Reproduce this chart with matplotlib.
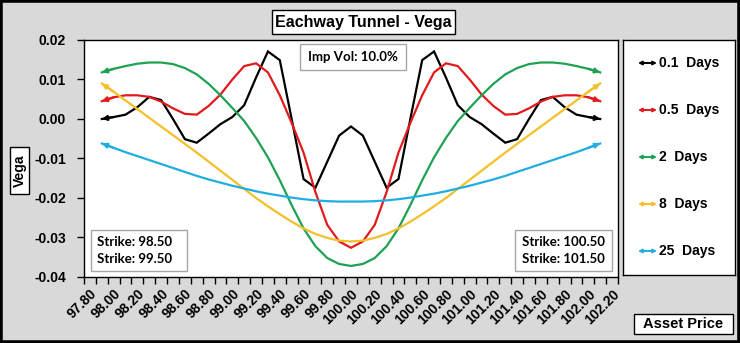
import matplotlib
matplotlib.use('Agg')
import matplotlib.pyplot as plt
from matplotlib.patches import Rectangle

W, H = 740, 343

# asset price grid (categories)
price = [97.9, 98.0, 98.1, 98.2, 98.3, 98.4, 98.5, 98.6, 98.7, 98.8, 98.9,
         99.0, 99.1, 99.2, 99.3, 99.4, 99.5, 99.6, 99.7, 99.8, 99.9,
         100.0, 100.1, 100.2, 100.3, 100.4, 100.5, 100.6, 100.7, 100.8, 100.9,
         101.0, 101.1, 101.2, 101.3, 101.4, 101.5, 101.6, 101.7, 101.8, 101.9,
         102.0, 102.1]

vega_01d = [0.0000, 0.0005, 0.0011, 0.0030, 0.0056, 0.0048, 0.0000, -0.0051, -0.0060, -0.0037, -0.0013,
            0.0005, 0.0035, 0.0105, 0.0171, 0.0149, 0.0000, -0.0152, -0.0174, -0.0108, -0.0042,
            -0.0019, -0.0042, -0.0108, -0.0174, -0.0152, 0.0000, 0.0149, 0.0171, 0.0105, 0.0035,
            0.0005, -0.0013, -0.0037, -0.0060, -0.0051, 0.0000, 0.0048, 0.0056, 0.0030, 0.0011,
            0.0005, 0.0000]

vega_05d = [0.0045, 0.0055, 0.0060, 0.0060, 0.0056, 0.0044, 0.0027, 0.0013, 0.0011, 0.0033, 0.0062,
            0.0100, 0.0134, 0.0141, 0.0118, 0.0060, -0.0010, -0.0085, -0.0185, -0.0268, -0.0310,
            -0.0326, -0.0310, -0.0268, -0.0185, -0.0085, -0.0010, 0.0060, 0.0118, 0.0141, 0.0134,
            0.0100, 0.0062, 0.0033, 0.0011, 0.0013, 0.0027, 0.0044, 0.0056, 0.0060, 0.0060,
            0.0055, 0.0045]

vega_2d = [0.0118, 0.0127, 0.0134, 0.0140, 0.0143, 0.0143, 0.0139, 0.0129, 0.0113, 0.0089, 0.0060,
           0.0028, -0.0005, -0.0048, -0.0097, -0.0155, -0.0218, -0.0277, -0.0322, -0.0352, -0.0367,
           -0.0372, -0.0367, -0.0352, -0.0322, -0.0277, -0.0218, -0.0155, -0.0097, -0.0048, -0.0005,
           0.0028, 0.0060, 0.0089, 0.0113, 0.0129, 0.0139, 0.0143, 0.0143, 0.0140, 0.0134,
           0.0127, 0.0118]

vega_8d = [0.0090, 0.0069, 0.0047, 0.0025, 0.0003, -0.0019, -0.0041, -0.0063, -0.0085, -0.0108, -0.0131,
           -0.0154, -0.0177, -0.0200, -0.0221, -0.0241, -0.0260, -0.0277, -0.0291, -0.0301, -0.0308,
           -0.0310, -0.0308, -0.0301, -0.0291, -0.0277, -0.0260, -0.0241, -0.0221, -0.0200, -0.0177,
           -0.0154, -0.0131, -0.0108, -0.0085, -0.0063, -0.0041, -0.0019, 0.0003, 0.0025, 0.0047,
           0.0069, 0.0090]

vega_25d = [-0.0062, -0.0073, -0.0084, -0.0094, -0.0104, -0.0114, -0.0124, -0.0134, -0.0144, -0.0153, -0.0161,
            -0.0169, -0.0176, -0.0183, -0.0189, -0.0194, -0.0199, -0.0203, -0.0206, -0.0208, -0.0209,
            -0.0209, -0.0209, -0.0208, -0.0206, -0.0203, -0.0199, -0.0194, -0.0189, -0.0183, -0.0176,
            -0.0169, -0.0161, -0.0153, -0.0144, -0.0134, -0.0124, -0.0114, -0.0104, -0.0094, -0.0084,
            -0.0073, -0.0062]

series_names = ['0.1  Days', '0.5  Days', '2  Days', '8  Days', '25  Days']
series_colors = ['#000000', '#E31A1C', '#1FA152', '#F5BF2A', '#1FAEE0']
xtick_vals = [97.8, 98.0, 98.2, 98.4, 98.6, 98.8, 99.0, 99.2, 99.4, 99.6, 99.8,
              100.0, 100.2, 100.4, 100.6, 100.8, 101.0, 101.2, 101.4, 101.6, 101.8,
              102.0, 102.2]
ytick_vals = [-0.04, -0.03, -0.02, -0.01, 0.00, 0.01, 0.02]
strikes_left = ['Strike: 98.50', 'Strike: 99.50']
strikes_right = ['Strike: 100.50', 'Strike: 101.50']

ARIAL = ['Liberation Sans', 'DejaVu Sans']
CALIBRI = ['Lato', 'DejaVu Sans']


def fx(x):
    return x / W


def fy(y):
    return 1 - y / H


def box(x0, y0, x1, y1, ec='black', lw=1.0):
    fig.add_artist(Rectangle((fx(x0), fy(y1)), (x1 - x0) / W, (y1 - y0) / H,
                             transform=fig.transFigure, fc='white', ec=ec, lw=lw, zorder=5))


fig = plt.figure(figsize=(W / 100, H / 100), dpi=100)
fig.patch.set_facecolor('#D9D9D9')
fig.add_artist(Rectangle((0, 0), 1, 1, transform=fig.transFigure, fill=False,
                         ec='black', lw=4, zorder=10))

ax = fig.add_axes([fx(84), fy(277), (618 - 84) / W, (277 - 40) / H])
ax.set_facecolor('white')

all_series = [vega_01d, vega_05d, vega_2d, vega_8d, vega_25d]
for vals, col in zip(all_series, series_colors):
    ax.plot(price, vals, color=col, lw=1.6, solid_joinstyle='miter')
    for a, b in [(1, 0), (-2, -1)]:
        ax.annotate('', xy=(price[b], vals[b]), xytext=(price[a], vals[a]),
                    arrowprops=dict(arrowstyle='-|>', color=col, lw=1.6,
                                    shrinkA=0, shrinkB=0, mutation_scale=7))

ax.set_xlim(97.75, 102.25)
ax.set_ylim(-0.04, 0.02)
ax.set_xticks(xtick_vals)
ax.set_xticklabels(['%.2f' % v for v in xtick_vals], rotation=45, ha='right',
                   rotation_mode='anchor', fontsize=10, fontweight='bold', family=ARIAL)
ax.set_xticks([97.75 + 0.1 * i for i in range(46)], minor=True)
ax.tick_params(axis='x', which='major', length=0, pad=7)
ax.tick_params(axis='x', which='minor', length=5, width=1, direction='out')
ax.set_yticks(ytick_vals)
ax.set_yticklabels(['%.2f' % v for v in ytick_vals], fontsize=10, fontweight='bold', family=ARIAL)
ax.tick_params(axis='y', length=5, width=1, direction='out', pad=8)
for s in ax.spines.values():
    s.set_linewidth(1)

# title
box(272, 10, 455, 34)
fig.text(fx(363.5), fy(22), 'Eachway Tunnel - Vega', ha='center', va='center',
         fontsize=11.5, fontweight='bold', family=ARIAL, zorder=6)

# y label
box(10, 147, 29, 194)
fig.text(fx(19.5), fy(170.5), 'Vega', ha='center', va='center', rotation=90,
         fontsize=10, fontweight='bold', family=ARIAL, zorder=6)

# x label
box(634, 314, 733, 334)
fig.text(fx(683.5), fy(324), 'Asset Price', ha='center', va='center',
         fontsize=10.5, fontweight='bold', family=ARIAL, zorder=6)

# implied vol
box(300, 44, 406, 70, ec='#A6A6A6')
fig.text(fx(353), fy(57), 'Imp Vol: 10.0%', ha='center', va='center',
         fontsize=9.5, fontweight='bold', family=CALIBRI, zorder=6)

# strike boxes
box(91, 230, 187, 271, ec='#A6A6A6')
box(515, 230, 612, 271, ec='#A6A6A6')
for i, (sl, sr) in enumerate(zip(strikes_left, strikes_right)):
    yy = 242 + 17 * i
    fig.text(fx(97), fy(yy), sl, ha='left', va='center', fontsize=9.5,
             fontweight='bold', family=CALIBRI, zorder=6)
    fig.text(fx(522), fy(yy), sr, ha='left', va='center', fontsize=9.5,
             fontweight='bold', family=CALIBRI, zorder=6)

# legend
lx0, ly0, lx1, ly1 = 623, 40, 735, 275
lax = fig.add_axes([fx(lx0), fy(ly1), (lx1 - lx0) / W, (ly1 - ly0) / H])
lax.set_xlim(lx0, lx1)
lax.set_ylim(ly1, ly0)
lax.set_xticks([])
lax.set_yticks([])
for s in lax.spines.values():
    s.set_linewidth(1)
for i, (name, col) in enumerate(zip(series_names, series_colors)):
    yy = 63 + 47 * i
    lax.annotate('', xy=(657, yy), xytext=(638, yy),
                 arrowprops=dict(arrowstyle='<|-|>', color=col, lw=1.4,
                                 shrinkA=0, shrinkB=0, mutation_scale=5))
    lax.text(659, yy, name, ha='left', va='center', fontsize=10,
             fontweight='bold', family=ARIAL)

fig.savefig('out.png', dpi=100, facecolor=fig.get_facecolor())
